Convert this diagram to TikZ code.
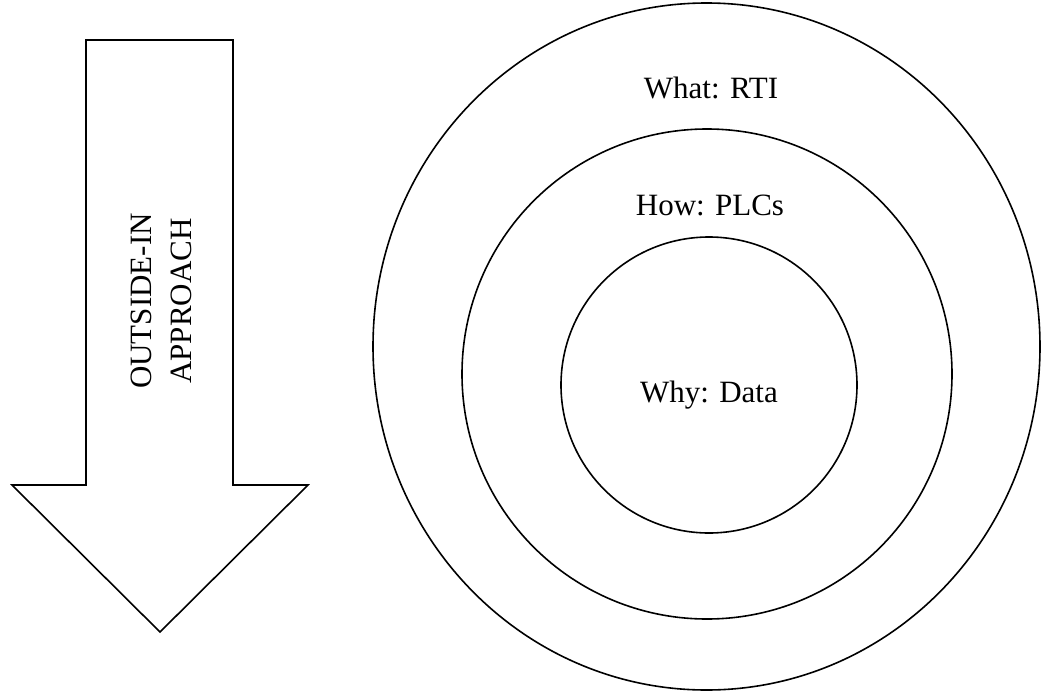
\documentclass[tikz,border=0pt]{standalone}
\usepackage{fontspec}
\setmainfont{Liberation Serif}
\begin{document}
\begin{tikzpicture}[x=1pt,y=-1pt,
  ring/.style={draw=black,line width=1.6pt},
  lbl/.style={font=\fontsize{31}{36}\selectfont,inner sep=0pt},
  arrowshape/.style={draw=black,line width=1.6pt,line join=miter}]
\useasboundingbox (0,0) rectangle (1042,694);
% arrow
\coordinate (a1) at (86,40);
\coordinate (a2) at (233,40);
\coordinate (a3) at (233,485);
\coordinate (a4) at (308,485);
\coordinate (a5) at (160,632);
\coordinate (a6) at (12,485);
\coordinate (a7) at (86,485);
\draw[arrowshape] (a1) -- (a2) -- (a3) -- (a4) -- (a5) -- (a6) -- (a7) -- cycle;
\node[lbl,rotate=90,align=center,font=\fontsize{31}{40}\selectfont] (arrowtext) at (161,301) {OUTSIDE-IN\\APPROACH};
% rings
\draw[ring] (706.5,346.5) ellipse [x radius=333.5, y radius=343.5];
\draw[ring] (707,374) ellipse [x radius=245, y radius=245];
\draw[ring] (709,385) ellipse [x radius=148, y radius=148];
\node[lbl,anchor=base] (what) at (711,98) {What: RTI};
\node[lbl,anchor=base] (how) at (710,215) {How: PLCs};
\node[lbl] (why) at (709,395) {Why: Data};
\end{tikzpicture}
\end{document}
